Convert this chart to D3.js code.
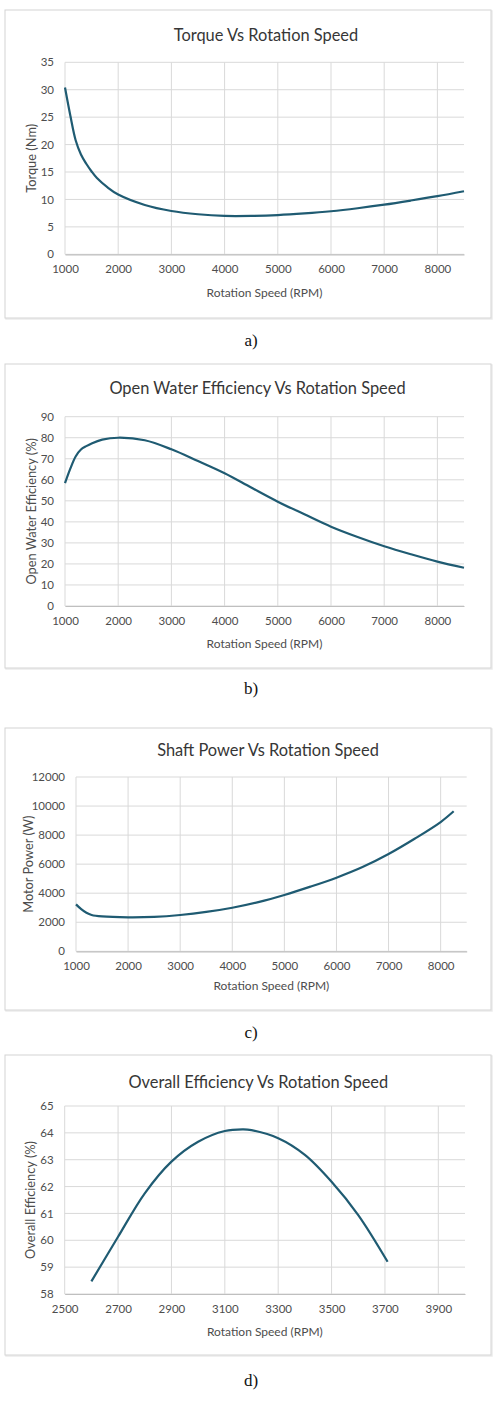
<!DOCTYPE html>
<html><head><meta charset="utf-8">
<script src="https://cdn.jsdelivr.net/npm/d3@7"></script>
<style>
html,body{margin:0;padding:0;background:#fff;}
svg{display:block;}
</style></head>
<body>
<svg id="c" width="502" height="1402"></svg>
<script>
// ---- data ----
const torqueRpm = [1000,1100,1200,1300,1400,1500,1600,1800,2000,2500,3000,3500,4000,4500,5000,5500,6000,6500,7000,7500,8000,8500];
const torqueNm  = [30.4,25.3,20.8,18.2,16.5,15.1,13.9,12.2,10.9,9.0,7.9,7.3,7.0,7.0,7.15,7.45,7.85,8.4,9.05,9.8,10.6,11.5];

const owRpm = [1000,1100,1200,1300,1400,1500,1700,2000,2500,3000,3500,4000,4500,5000,5500,6000,6500,7000,7500,8000,8500];
const owEff = [58.4,65.3,71.1,74.4,76.0,77.3,79.1,80.0,78.8,74.5,68.9,63.1,56.3,49.6,43.6,37.7,32.8,28.4,24.6,21.1,18.2];

const powRpm = [1000,1100,1200,1300,1500,2000,2500,3000,3500,4000,4500,5000,5500,6000,6500,7000,7500,8000,8250];
const powW   = [3230,2900,2650,2500,2400,2340,2370,2500,2710,3000,3390,3880,4450,5070,5800,6700,7750,8900,9640];

const oeRpm = [2600,2700,2800,2900,3000,3100,3170,3200,3300,3400,3500,3600,3710];
const oeEff = [58.47,60.13,61.75,62.93,63.67,64.07,64.13,64.1,63.8,63.18,62.18,60.94,59.2];

const xTicksA = [1000,2000,3000,4000,5000,6000,7000,8000];
const yTicksA = [0,5,10,15,20,25,30,35];
const yTicksB = [0,10,20,30,40,50,60,70,80,90];
const yTicksC = [0,2000,4000,6000,8000,10000,12000];
const xTicksD = [2500,2700,2900,3100,3300,3500,3700,3900];
const yTicksD = [58,59,60,61,62,63,64,65];

const titles = ["Torque Vs Rotation Speed","Open Water Efficiency Vs Rotation Speed","Shaft Power Vs Rotation Speed","Overall Efficiency Vs Rotation Speed"];
const yTitles = ["Torque (Nm)","Open Water Efficiency (%)","Motor Power (W)","Overall Efficiency (%)"];
const xTitle = "Rotation Speed (RPM)";
const captions = ["a)","b)","c)","d)"];

// ---- drawing ----
const svg = d3.select("#c");
const FONT = "Lato, 'Open Sans', sans-serif";
const LINE = "#1f5b72";
const GRID = "#d9d9d9";
const TXT = "#4d4d4d";

const panels = [
  {frame:[5,10,491,318], xd:[1000,8500], xr:[65,464], yd:[0,35], yr:[254.3,62.3], xt:xTicksA, yt:yTicksA,
   xs:torqueRpm, ys:torqueNm, titleXY:[266,34], xlabY:292.7, ylabX:30.7, capY:340},
  {frame:[5,364,491,668], xd:[1000,8500], xr:[65,464], yd:[0,90], yr:[606,416.7], xt:xTicksA, yt:yTicksB,
   xs:owRpm, ys:owEff, titleXY:[257.5,387.3], xlabY:643.3, ylabX:31, capY:688},
  {frame:[5,728,491,1010], xd:[1000,8500], xr:[76,466.7], yd:[0,12000], yr:[951.3,777], xt:xTicksA, yt:yTicksC,
   xs:powRpm, ys:powW, titleXY:[268,749.3], xlabY:985.7, ylabX:28.3, capY:1032},
  {frame:[5,1055,491,1355], xd:[2500,4000], xr:[64.7,465], yd:[58,65], yr:[1294,1106], xt:xTicksD, yt:yTicksD,
   xs:oeRpm, ys:oeEff, titleXY:[258.3,1081.7], xlabY:1331, ylabX:30, capY:1380}
];

panels.forEach((p,i)=>{
  const g = svg.append("g");
  const [fx0,fy0,fx1,fy1] = p.frame;
  g.append("rect").attr("x",fx0+1).attr("y",fy0+1).attr("width",fx1-fx0).attr("height",fy1-fy0)
    .attr("fill","none").attr("stroke","#ececec").attr("stroke-width",1.5);
  g.append("rect").attr("x",fx0).attr("y",fy0).attr("width",fx1-fx0).attr("height",fy1-fy0)
    .attr("fill","#fff").attr("stroke","#d4d4d4").attr("stroke-width",1);

  const x = d3.scaleLinear().domain(p.xd).range(p.xr);
  const y = d3.scaleLinear().domain(p.yd).range(p.yr);

  // gridlines
  g.append("g").selectAll("line.h").data(p.yt).join("line")
    .attr("x1",p.xr[0]).attr("x2",p.xr[1]).attr("y1",d=>y(d)).attr("y2",d=>y(d))
    .attr("stroke",GRID).attr("stroke-width",1);
  g.append("g").selectAll("line.v").data(p.xt).join("line")
    .attr("x1",d=>x(d)).attr("x2",d=>x(d)).attr("y1",p.yr[0]).attr("y2",p.yr[1])
    .attr("stroke",GRID).attr("stroke-width",1);

  // axes via d3
  const xa = g.append("g").attr("transform",`translate(0,${p.yr[0]})`)
    .call(d3.axisBottom(x).tickValues(p.xt).tickSize(0).tickPadding(11).tickFormat(d3.format("d")));
  xa.select(".domain").attr("stroke","#bfbfbf").attr("stroke-width",1.2);
  xa.selectAll("text").attr("fill",TXT).attr("font-family",FONT).attr("font-size",11.5);
  const ya = g.append("g").attr("transform",`translate(${p.xr[0]},0)`)
    .call(d3.axisLeft(y).tickValues(p.yt).tickSize(0).tickPadding(11).tickFormat(d3.format("d")));
  ya.select(".domain").remove();
  ya.selectAll("text").attr("fill",TXT).attr("font-family",FONT).attr("font-size",11.5);

  // series
  const pts = p.xs.map((v,k)=>[v,p.ys[k]]);
  g.append("path").datum(pts)
    .attr("d",d3.line().x(d=>x(d[0])).y(d=>y(d[1])).curve(d3.curveCatmullRom.alpha(0.5)))
    .attr("fill","none").attr("stroke",LINE).attr("stroke-width",2.2);

  // titles
  g.append("text").attr("x",p.titleXY[0]).attr("y",p.titleXY[1]).attr("text-anchor","middle")
    .attr("dominant-baseline","central").attr("font-family",FONT).attr("font-size",16.4).attr("fill","#363636")
    .text(titles[i]);
  g.append("text").attr("x",(p.xr[0]+p.xr[1])/2).attr("y",p.xlabY).attr("text-anchor","middle")
    .attr("dominant-baseline","central").attr("font-family",FONT).attr("font-size",12).attr("fill",TXT)
    .text(xTitle);
  g.append("text").attr("transform",`translate(${p.ylabX},${(p.yr[0]+p.yr[1])/2}) rotate(-90)`)
    .attr("text-anchor","middle").attr("dominant-baseline","central")
    .attr("font-family",FONT).attr("font-size",12.8).attr("fill",TXT).text(yTitles[i]);

  // caption
  svg.append("text").attr("x",251).attr("y",p.capY).attr("text-anchor","middle")
    .attr("dominant-baseline","central").attr("font-family","'Liberation Serif', 'Times New Roman', serif")
    .attr("font-size",17).attr("fill","#111").text(captions[i]);
});
</script>
</body></html>
